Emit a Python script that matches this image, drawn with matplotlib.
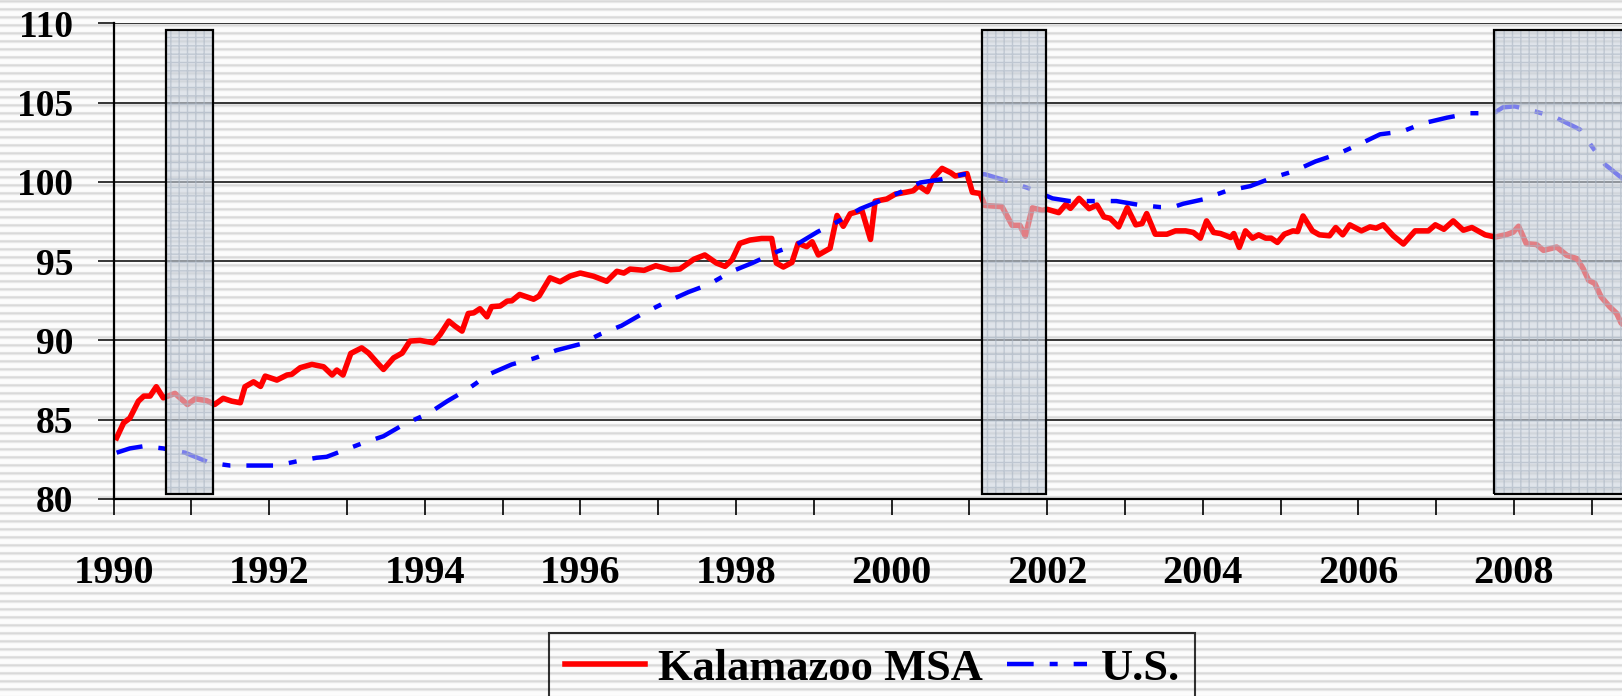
import numpy as np
import matplotlib
matplotlib.use("Agg")
import matplotlib.pyplot as plt
from matplotlib.patches import Rectangle

# employment index (decimal year, value)
kzoo_year = [1990.04, 1990.13, 1990.21, 1990.32, 1990.39, 1990.47, 1990.55, 1990.64, 1990.79, 1990.95,
             1991.05, 1991.20, 1991.30, 1991.41, 1991.52, 1991.63, 1991.69, 1991.80, 1991.89, 1991.95,
             1992.10, 1992.23, 1992.29, 1992.40, 1992.55, 1992.70, 1992.81, 1992.87, 1992.95,
             1993.05, 1993.19, 1993.28, 1993.39, 1993.47, 1993.60, 1993.71, 1993.81, 1993.94,
             1994.11, 1994.20, 1994.31, 1994.39, 1994.48, 1994.56, 1994.63, 1994.71, 1994.80, 1994.86, 1994.97,
             1995.06, 1995.12, 1995.22, 1995.40, 1995.47, 1995.61, 1995.74, 1995.87,
             1996.00, 1996.17, 1996.34, 1996.47, 1996.56, 1996.64, 1996.82, 1996.97,
             1997.16, 1997.28, 1997.46, 1997.60, 1997.75, 1997.86, 1997.95,
             1998.05, 1998.18, 1998.33, 1998.46, 1998.52, 1998.61, 1998.72, 1998.80, 1998.91, 1998.98,
             1999.06, 1999.21, 1999.30, 1999.38, 1999.47, 1999.62, 1999.73, 1999.79, 1999.94,
             2000.05, 2000.18, 2000.28, 2000.35, 2000.46, 2000.54, 2000.65, 2000.76, 2000.82, 2000.97,
             2001.04, 2001.14, 2001.20, 2001.42, 2001.55, 2001.65, 2001.72, 2001.81, 2001.94,
             2002.00, 2002.15, 2002.24, 2002.30, 2002.41, 2002.54, 2002.64, 2002.73, 2002.81, 2002.92,
             2003.03, 2003.14, 2003.22, 2003.28, 2003.39, 2003.54, 2003.65, 2003.78, 2003.88, 2003.97,
             2004.05, 2004.14, 2004.23, 2004.36, 2004.40, 2004.47, 2004.55, 2004.64, 2004.72, 2004.81, 2004.88, 2004.96,
             2005.05, 2005.16, 2005.22, 2005.29, 2005.41, 2005.50, 2005.63, 2005.71, 2005.80, 2005.89,
             2006.04, 2006.15, 2006.23, 2006.32, 2006.45, 2006.58, 2006.73, 2006.90, 2006.99,
             2007.10, 2007.22, 2007.35, 2007.46, 2007.63, 2007.76, 2007.91, 2007.99,
             2008.06, 2008.16, 2008.29, 2008.38, 2008.55, 2008.68, 2008.81, 2008.89, 2008.96,
             2009.04, 2009.12, 2009.23, 2009.32, 2009.38, 2009.42]
kzoo_val = [83.86, 84.8, 85.1, 86.17, 86.49, 86.49, 87.08, 86.38, 86.66, 85.96,
            86.32, 86.2, 85.96, 86.35, 86.17, 86.07, 87.08, 87.39, 87.1, 87.75,
            87.5, 87.82, 87.86, 88.28, 88.49, 88.34, 87.82, 88.13, 87.82,
            89.18, 89.53, 89.2, 88.59, 88.17, 88.9, 89.2, 89.96, 90.0,
            89.85, 90.38, 91.22, 90.9, 90.59, 91.7, 91.74, 92.0, 91.49, 92.13, 92.17,
            92.48, 92.5, 92.9, 92.6, 92.8, 93.95, 93.7, 94.06,
            94.25, 94.05, 93.73, 94.36, 94.25, 94.5, 94.42, 94.71,
            94.46, 94.5, 95.12, 95.39, 94.88, 94.67, 95.08,
            96.12, 96.33, 96.43, 96.43, 94.88, 94.63, 94.92, 96.12, 95.91, 96.22,
            95.39, 95.81, 97.88, 97.2, 97.99, 98.2, 96.37, 98.78, 98.92,
            99.23, 99.34, 99.44, 99.75, 99.38, 100.27, 100.85, 100.58, 100.37, 100.52,
            99.34, 99.27, 98.51, 98.44, 97.26, 97.26, 96.58, 98.36, 98.2,
            98.27, 98.06, 98.58, 98.33, 98.96, 98.31, 98.54, 97.79, 97.7, 97.16,
            98.37, 97.29, 97.37, 98.0, 96.7, 96.7, 96.91, 96.91, 96.81, 96.45,
            97.54, 96.81, 96.74, 96.49, 96.74, 95.87, 96.91, 96.45, 96.66, 96.45, 96.45, 96.18,
            96.7, 96.91, 96.87, 97.85, 96.91, 96.66, 96.6, 97.12, 96.66, 97.29,
            96.91, 97.16, 97.08, 97.29, 96.6, 96.08, 96.91, 96.91, 97.29,
            97.01, 97.54, 96.95, 97.12, 96.66, 96.52, 96.68, 96.83,
            97.2, 96.1, 96.05, 95.68, 95.89, 95.37, 95.16, 94.53, 93.8,
            93.59, 92.76, 92.13, 91.71, 91.09, 90.95]

us_year = [1990.04, 1990.21, 1990.39, 1990.64, 1990.92, 1991.24, 1991.50, 1991.76, 1992.10, 1992.36,
           1992.61, 1992.74, 1992.91, 1993.19, 1993.47, 1993.73, 1994.05, 1994.29, 1994.56, 1994.82,
           1995.12, 1995.40, 1995.70, 1996.00, 1996.26, 1996.53, 1996.79, 1997.09, 1997.39, 1997.65,
           1997.95, 1998.21, 1998.53, 1998.79, 1999.05, 1999.30, 1999.60, 1999.86, 2000.11, 2000.37,
           2000.65, 2000.93, 2001.20, 2001.48, 2001.76, 2002.07, 2002.29, 2002.59, 2002.89, 2003.19,
           2003.45, 2003.62, 2003.75, 2004.00, 2004.30, 2004.61, 2004.89, 2005.17, 2005.45, 2005.73,
           2006.00, 2006.28, 2006.56, 2006.84, 2007.14, 2007.44, 2007.74, 2007.86, 2008.01, 2008.27,
           2008.55, 2008.85, 2009.00, 2009.17, 2009.38, 2009.42]
us_val = [82.92, 83.19, 83.33, 83.19, 82.92, 82.28, 82.11, 82.11, 82.11, 82.38,
          82.6, 82.66, 82.98, 83.5, 83.96, 84.7, 85.4, 86.17, 86.95, 87.85,
          88.49, 88.86, 89.39, 89.77, 90.4, 90.93, 91.66, 92.39, 93.05, 93.53,
          94.36, 94.88, 95.6, 96.08, 96.85, 97.47, 98.3, 98.82, 99.34, 99.96,
          100.17, 100.48, 100.48, 100.07, 99.6, 98.96, 98.79, 98.79, 98.79, 98.54,
          98.41, 98.41, 98.62, 98.89, 99.42, 99.73, 100.25, 100.67, 101.29, 101.75,
          102.34, 103.0, 103.17, 103.7, 104.05, 104.33, 104.33, 104.7, 104.76, 104.45,
          104.03, 103.3, 102.25, 101.1, 100.27, 100.1]

# recessions (start, end) in decimal years
recessions = [(1990.67, 1991.28), (2001.16, 2001.99), (2007.75, 2010.5)]

x_ticks = list(range(1990, 2010))
x_labels = [str(y) if y % 2 == 0 else '' for y in x_ticks]
y_ticks = [80, 85, 90, 95, 100, 105, 110]

FONT = 'Liberation Serif'
W, H = 1622, 696

fig = plt.figure(figsize=(W / 100, H / 100), dpi=100)

# striped backdrop
bg = fig.add_axes([0, 0, 1, 1], zorder=-10)
rows = np.arange(H)
shade = np.array([0.88, 0.85, 0.91, 0.97, 0.985, 0.985, 0.985, 0.975])[rows % 8]
bg.imshow(np.repeat(shade[:, None], 4, axis=1), cmap='gray', vmin=0, vmax=1,
          aspect='auto', interpolation='nearest', extent=[0, 1, 0, 1])
bg.axis('off')

x0 = 113.5 / W
y0 = (H - 499) / H
yh = (499 - 23.3) / H
xw = 20 * 77.8 / W
ax = fig.add_axes([x0, y0, xw, yh])
ax.set_facecolor('none')

ax.plot(kzoo_year, kzoo_val, color='#ff0000', lw=4.0, solid_joinstyle='round',
        label='Kalamazoo MSA', zorder=3)
ax.plot(us_year, us_val, color='#0000ff', lw=3.2, linestyle=(0, (6.0, 3.6, 1.8, 3.6)),
        dash_capstyle='butt', label='U.S.', zorder=3)

for start, end in recessions:
    ax.add_patch(Rectangle((start, 80.3), end - start, 109.6 - 80.3, facecolor='#cdd4de',
                           alpha=0.6, edgecolor='#aab5c3', hatch='++', lw=0, zorder=4))
    ax.add_patch(Rectangle((start, 80.3), end - start, 109.6 - 80.3, fill=False,
                           edgecolor='black', lw=1.6, zorder=5))

ax.set_xlim(1990, 2010)
ax.set_ylim(80, 110)
ax.set_yticks(y_ticks)
ax.set_xticks(x_ticks)
ax.set_xticklabels(x_labels)
ax.yaxis.grid(True, color='black', lw=1.1, zorder=1)
ax.set_axisbelow(True)

for s in ['top', 'right']:
    ax.spines[s].set_visible(False)
for s in ['left', 'bottom']:
    ax.spines[s].set_linewidth(1.6)
    ax.spines[s].set_zorder(6)

ax.tick_params(axis='y', length=11.5, width=1.1, pad=17.5, direction='out')
ax.tick_params(axis='x', length=11.5, width=1.2, pad=29, direction='out')
for lab in ax.get_yticklabels():
    lab.set_fontfamily(FONT)
    lab.set_fontweight('bold')
    lab.set_fontsize(27)
for lab in ax.get_xticklabels():
    lab.set_fontfamily(FONT)
    lab.set_fontweight('bold')
    lab.set_fontsize(29)

leg = fig.legend(loc='upper left', bbox_to_anchor=(549 / W, 1 - 633 / H), ncol=2,
                 borderaxespad=0, frameon=True, fancybox=False, edgecolor='black',
                 facecolor='none', handlelength=1.8, handletextpad=0.3,
                 columnspacing=0.55, borderpad=0.35,
                 prop={'family': FONT, 'weight': 'bold', 'size': 32})
leg.get_frame().set_linewidth(1.5)

fig.savefig('out.png', dpi=100)
